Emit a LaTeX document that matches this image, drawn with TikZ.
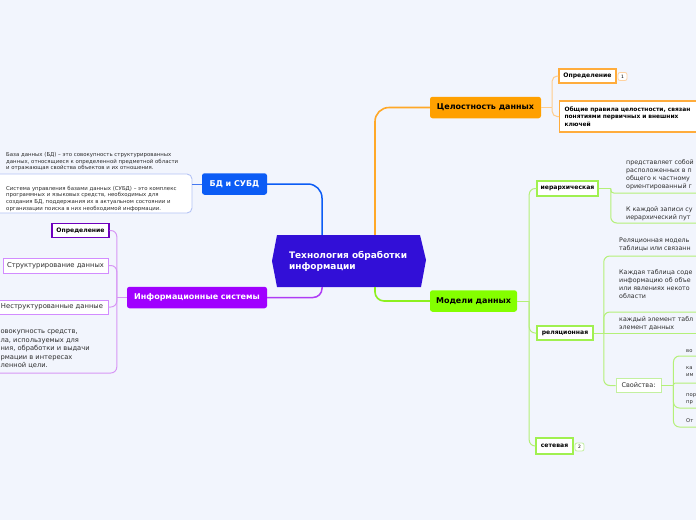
\documentclass[tikz,border=0pt]{standalone}
\usepackage{fontspec}
\setmainfont{DejaVu Sans}
\definecolor{bgc}{RGB}{242,245,253}
\definecolor{hexc}{RGB}{50,15,215}
\definecolor{bluec}{RGB}{12,92,245}
\definecolor{orangec}{RGB}{255,160,0}
\definecolor{purplec}{RGB}{160,0,255}
\definecolor{greenc}{RGB}{132,255,0}
\definecolor{bluesubc}{RGB}{70,120,240}
\definecolor{sysc}{RGB}{180,195,245}
\definecolor{orangeline}{RGB}{255,168,40}
\definecolor{osubc}{RGB}{255,205,140}
\definecolor{oborder}{RGB}{255,172,60}
\definecolor{obadge}{RGB}{255,210,160}
\definecolor{purpleline}{RGB}{175,60,245}
\definecolor{psubc}{RGB}{215,150,245}
\definecolor{pdark}{RGB}{110,0,190}
\definecolor{plight}{RGB}{210,140,255}
\definecolor{greenline}{RGB}{140,240,30}
\definecolor{gsubc}{RGB}{180,240,120}
\definecolor{gborder}{RGB}{160,240,80}
\definecolor{gpborder}{RGB}{195,240,160}
\definecolor{txtc}{RGB}{45,45,45}
\begin{document}
\begin{tikzpicture}[x=1pt,y=-1pt,
  every node/.style={inner sep=0pt},
  lvlone/.style={rounded corners=2.5pt, minimum height=21.5pt, font=\fontsize{8}{10}\selectfont\bfseries},
  sbox/.style={draw, fill=white, line width=1.2pt, font=\fontsize{6.1}{7}\selectfont\bfseries, text=black},
  nbox/.style={draw, fill=white, line width=0.9pt, font=\fontsize{6.8}{8}\selectfont, text=txtc},
  rtxt/.style={anchor=north west, align=left, font=\fontsize{6.3}{8}\selectfont, text=txtc},
  ptxt/.style={anchor=north west, align=left, font=\fontsize{5.2}{6.5}\selectfont, text=txtc},
  frag/.style={anchor=base west, font=\fontsize{6.7}{8.5}\selectfont, text=txtc},
  badge/.style={draw, fill=white, rounded corners=2pt, minimum width=9pt, minimum height=8pt, font=\fontsize{4.5}{5}\selectfont, line width=0.8pt},
  bluesub/.style={draw=bluesubc, line width=1pt},
  osub/.style={draw=osubc, line width=1pt, rounded corners=5pt},
  psub/.style={draw=psubc, line width=1pt, rounded corners=6pt},
  gsub/.style={draw=gsubc, line width=1pt, rounded corners=6pt}
]
\fill[bgc] (0,0) rectangle (696,520);
\useasboundingbox (0,0) rectangle (696,520);
\clip (0,0) rectangle (696,520);

% central node
\fill[hexc] (272,261) -- (277,235) -- (420,235) -- (426,260) -- (421,287) -- (277,287) -- cycle;
\node[text=white, font=\fontsize{9}{11}\selectfont\bfseries, align=left, text width=120pt, minimum width=154pt, minimum height=52pt] (c) at (349,261) {Технология обработки\\информации};

% level one nodes
\node[lvlone, fill=bluec, text=white, minimum width=65pt] (bd) at (234.5,184) {БД и СУБД};
\node[lvlone, fill=orangec, text=black, minimum width=111pt] (cel) at (485.5,107.5) {Целостность данных};
\node[lvlone, fill=purplec, text=white, minimum width=140pt] (is) at (197,297.5) {Информационные системы};
\node[lvlone, fill=greenc, text=black, minimum width=87pt] (md) at (473.5,301) {Модели данных};

\draw[line width=1.5pt, draw=bluec, rounded corners=14pt] ([xshift=-27pt]c.north) |- (bd.east);
\draw[line width=1.6pt, draw=orangeline, rounded corners=14pt] ([xshift=26pt]c.north) |- (cel.west);
\draw[line width=1.5pt, draw=purpleline, rounded corners=9pt] ([xshift=-27pt]c.south) |- (is.east);
\draw[line width=1.6pt, draw=greenline, rounded corners=9pt] ([xshift=26pt]c.south) |- (md.west);

% blue subtree
\node[anchor=north west, align=left, font=\fontsize{5.4}{6.5}\selectfont, text=txtc] (bdtxt) at (6,152.5) {База данных (БД) – это совокупность структурированных\\данных, относящиеся к определенной предметной области\\и отражающая свойства объектов и их отношения.};
\node[draw=sysc, line width=0.9pt, fill=white, rounded corners=5pt, minimum width=202pt, minimum height=39pt] (sys) at (91,193.5) {};
\node[anchor=north west, align=left, font=\fontsize{5.4}{6.6}\selectfont, text=txtc] (systxt) at (6,185.8) {Система управления базами данных (СУБД) – это комплекс\\программных и языковых средств, необходимых для\\создания БД, поддержания их в актуальном состоянии и\\организации поиска в них необходимой информации.};
\draw[bluesub] (bd.west) -- (bd.west -| sys.east);

% purple subtree
\node[sbox, draw=pdark, minimum width=57pt, minimum height=14pt] (p1) at (80.5,230.5) {Определение};
\node[nbox, draw=plight, minimum width=105pt, minimum height=15pt] (p2) at (55.5,265.5) {Структурирование данных};
\node[nbox, draw=plight, minimum width=112pt, minimum height=14pt] (p3) at (52,307) {Неструктурованные данные};
\node[frag] (p4a) at (0.4,333.6) {овокупность средств,};
\node[frag] (p4b) at (0.4,342.1) {ла, используемых для};
\node[frag] (p4c) at (0.4,350.6) {ния, обработки и выдачи};
\node[frag] (p4d) at (0.4,359.1) {рмации в интересах};
\node[frag] (p4e) at (0.4,367.6) {ленной цели.};
\coordinate (ps) at ([xshift=-10pt]is.west);
\coordinate (pu) at (-5,373);
\draw[psub] (is.west) -- (ps);
\draw[psub] (ps) |- (p1.east);
\draw[psub] (ps) |- (p2.east);
\draw[psub] (ps) |- (p3.east);
\draw[psub] (ps) |- (pu);

% orange subtree
\node[sbox, draw=oborder, minimum width=57pt, minimum height=14pt] (o1) at (587.5,76) {Определение};
\node[badge, draw=obadge] (b1) at (622.5,76.5) {1};
\node[sbox, draw=oborder, anchor=west, align=left, text width=160pt, inner xsep=5pt, minimum height=31pt, font=\fontsize{5.9}{7.7}\selectfont\bfseries] (o2) at (559,116.5) {Общие правила целостности, связан\\понятиями первичных и внешних\\ключей};
\coordinate (os) at ([xshift=11pt]cel.east);
\draw[osub] (cel.east) -- (os);
\draw[osub] (os) |- (o1.west);
\draw[osub] (os) |- (o2.west);

% green subtree
\node[sbox, draw=gborder, line width=1.5pt, minimum width=61pt, minimum height=15pt] (hier) at (567.5,188.5) {иерархическая};
\node[sbox, draw=gborder, line width=1.5pt, minimum width=56pt, minimum height=14pt] (rel) at (565,333) {реляционная};
\node[sbox, draw=gborder, line width=1.5pt, minimum width=37pt, minimum height=16pt] (set) at (554.5,446) {сетевая};
\node[badge, draw=gpborder] (b2) at (579.5,447) {2};
\coordinate (gs) at ([xshift=12pt]md.east);
\draw[gsub] (md.east) -- (gs);
\draw[gsub] (gs) |- (hier.west);
\draw[gsub] (gs) |- (rel.west);
\draw[gsub] (gs) |- (set.west);

% hierarchical children
\node[rtxt] (h1) at (626,159.1) {представляет собой\\расположенных в п\\общего к частному\\ориентированный г};
\node[rtxt] (h2) at (626,206.1) {К каждой записи су\\иерархический пут};
\coordinate (hs) at ([xshift=12pt]hier.east);
\coordinate (uh1) at (710,193);
\coordinate (uh2) at (710,223);
\draw[gsub] (hier.east) -- (hs);
\draw[gsub, rounded corners=3pt] (hs) |- (uh1);
\draw[gsub] (hs) |- (uh2);

% relational children
\node[rtxt] (r1) at (619,238.1) {Реляционная модель\\таблицы или связанн};
\node[rtxt] (r2) at (619,269.1) {Каждая таблица соде\\информацию об объе\\или явлениях некото\\области};
\node[rtxt] (r3) at (619,316.1) {каждый элемент табл\\элемент данных};
\node[nbox, draw=gpborder, minimum width=45pt, minimum height=14pt, font=\fontsize{6.5}{8}\selectfont] (props) at (638.5,385.5) {Свойства:};
\coordinate (rs) at ([xshift=10pt]rel.east);
\coordinate (ur1) at (710,256);
\coordinate (ur2) at (710,312);
\coordinate (ur3) at (710,333);
\draw[gsub] (rel.east) -- (rs);
\draw[gsub] (rs) |- (ur1);
\draw[gsub] (rs) |- (ur2);
\draw[gsub] (rs) -- (ur3);
\draw[gsub] (rs) |- (props.west);

% property children
\node[ptxt] (q1) at (686,349.2) {во};
\node[ptxt] (q2) at (686,366.6) {ка\\им};
\node[ptxt] (q3) at (686,393.6) {пор\\пр};
\node[ptxt] (q4) at (686,418.6) {От};
\coordinate (qs) at ([xshift=12pt]props.east);
\coordinate (uq1) at (710,356);
\coordinate (uq2) at (710,383);
\coordinate (uq3) at (710,408);
\coordinate (uq4) at (710,427);
\draw[gsub] (props.east) -- (qs);
\draw[gsub] (qs) |- (uq1);
\draw[gsub, rounded corners=2pt] (qs) |- (uq2);
\draw[gsub] (qs) |- (uq3);
\draw[gsub] (qs) |- (uq4);
\end{tikzpicture}
\end{document}
